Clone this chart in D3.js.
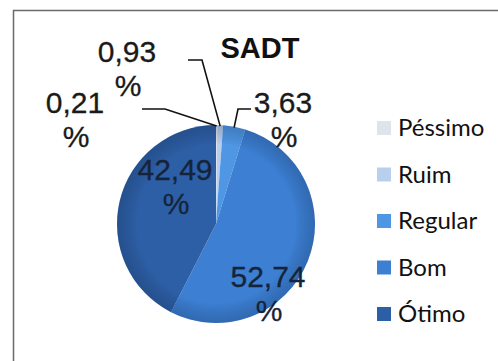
<!DOCTYPE html>
<html>
<head>
<meta charset="utf-8">
<script src="https://cdn.jsdelivr.net/npm/d3@7"></script>
<style>
  html, body { margin: 0; padding: 0; background: #fff; }
  svg { display: block; }
</style>
</head>
<body>
<svg id="chart" width="498" height="361"></svg>
<script>
// SADT satisfaction survey: share of answers per rating
const categories = ["Péssimo", "Ruim", "Regular", "Bom", "Ótimo"];
const values = [0.21, 0.93, 3.63, 52.74, 42.49];
const labels = ["0,21", "0,93", "3,63", "52,74", "42,49"];
const colors = ["#dfe3ec", "#b9cfee", "#4f97e5", "#3c7fd3", "#2d5fa6"];

// Label anchors relative to the pie centre (x, baseline of first line),
// plus an optional leader elbow for the thin slices.
const labelLayout = [
  { dx: -141, dy: -111, elbow: [[-74, -115], [-51, -115]] },
  { dx: -89,  dy: -162, elbow: [[-28, -164], [-14, -164]] },
  { dx: 67,   dy: -111, elbow: [[35, -115], [22, -115]] },
  { dx: 52,   dy: 63,   elbow: null },
  { dx: -41,  dy: -44,  elbow: null }
];

const svg = d3.select("#chart");
const cx = 216, cy = 224, r = 99;

// chart frame
svg.append("rect")
  .attr("x", 13.5).attr("y", 10.5)
  .attr("width", 520).attr("height", 380)
  .attr("fill", "#fff")
  .attr("stroke", "#6a6a6a")
  .attr("stroke-width", 1.5);

// title
svg.append("text")
  .attr("x", 260).attr("y", 58)
  .attr("text-anchor", "middle")
  .attr("font-family", "Liberation Sans, Arial, sans-serif")
  .attr("font-weight", "bold")
  .attr("font-size", 29)
  .attr("fill", "#111")
  .text("SADT");

const pie = d3.pie().sort(null).value(d => d)(values);
const arc = d3.arc().innerRadius(0).outerRadius(r);
const edgeArc = d3.arc().innerRadius(r - 1).outerRadius(r - 1);

const defs = svg.append("defs");
const shade = defs.append("radialGradient")
  .attr("id", "shade").attr("cx", "50%").attr("cy", "50%").attr("r", "50%");
shade.append("stop").attr("offset", "0.8").attr("stop-color", "#000").attr("stop-opacity", 0);
shade.append("stop").attr("offset", "1").attr("stop-color", "#0a1d3c").attr("stop-opacity", 0.22);

const g = svg.append("g").attr("transform", `translate(${cx},${cy})`);

g.selectAll("path.slice")
  .data(pie)
  .join("path")
  .attr("class", "slice")
  .attr("d", arc)
  .attr("fill", (d, i) => colors[i]);

// soft darkening towards the rim
g.append("circle").attr("r", r).attr("fill", "url(#shade)");

// leader lines for the thin slices
const lineGen = d3.line();
pie.forEach((d, i) => {
  const L = labelLayout[i];
  if (!L.elbow) return;
  const end = edgeArc.centroid(d);
  g.append("path")
    .attr("d", lineGen([...L.elbow, end]))
    .attr("fill", "none")
    .attr("stroke", "#111")
    .attr("stroke-width", 1.6);
});

// data labels
pie.forEach((d, i) => {
  const L = labelLayout[i];
  const ink = i >= 3 ? "#15243a" : "#1a1a1a";
  const t = g.append("text")
    .attr("text-anchor", "middle")
    .attr("font-family", "Liberation Sans, Arial, sans-serif")
    .attr("font-size", 30)
    .attr("fill", ink)
    .attr("stroke", ink)
    .attr("stroke-width", 0.3);
  t.append("tspan").attr("x", L.dx).attr("y", L.dy).text(labels[i]);
  t.append("tspan").attr("x", L.dx + 1).attr("y", L.dy + 34).text("%");
});

// legend
const legend = svg.append("g").attr("transform", "translate(377,0)");
const rowY = d3.scalePoint().domain(categories).range([128, 314]);
const item = legend.selectAll("g")
  .data(categories)
  .join("g")
  .attr("transform", d => `translate(0,${rowY(d)})`);
item.append("rect")
  .attr("x", 0).attr("y", -7)
  .attr("width", 14).attr("height", 14)
  .attr("fill", (d, i) => colors[i]);
item.append("text")
  .attr("x", 21).attr("y", 8)
  .attr("font-family", "Lato, 'Open Sans', sans-serif")
  .attr("font-size", 24)
  .attr("fill", "#111")
  .text(d => d);
</script>
</body>
</html>
